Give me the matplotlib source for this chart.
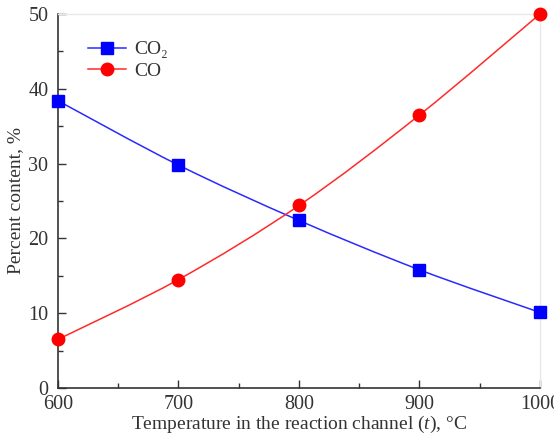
import numpy as np
import matplotlib
matplotlib.use('Agg')
import matplotlib.pyplot as plt
from matplotlib.path import Path
from matplotlib.patches import PathPatch
from matplotlib.ticker import MultipleLocator

# Gas composition vs. temperature
temperature = [600, 700, 800, 900, 1000]
co2_content = [38.4, 29.8, 22.4, 15.8, 10.1]
co_content = [6.5, 14.5, 24.4, 36.5, 50.0]

plt.rcParams['font.family'] = ['Liberation Serif', 'DejaVu Serif']
plt.rcParams['mathtext.fontset'] = 'custom'
plt.rcParams['mathtext.rm'] = 'Liberation Serif'
plt.rcParams['mathtext.it'] = 'Liberation Serif:italic'
text_color = '#333333'


def smooth_path(x, y):
    # Catmull-Rom through the points, drawn as cubic Bezier segments
    x = np.asarray(x, float)
    y = np.asarray(y, float)
    verts = [(x[0], y[0])]
    codes = [Path.MOVETO]
    n = len(x)
    for i in range(n - 1):
        x0, y0 = (x[i - 1], y[i - 1]) if i > 0 else (x[i], y[i])
        x3, y3 = (x[i + 2], y[i + 2]) if i + 2 < n else (x[i + 1], y[i + 1])
        c1 = (x[i] + (x[i + 1] - x0) / 6, y[i] + (y[i + 1] - y0) / 6)
        c2 = (x[i + 1] - (x3 - x[i]) / 6, y[i + 1] - (y3 - y[i]) / 6)
        verts += [c1, c2, (x[i + 1], y[i + 1])]
        codes += [Path.CURVE4] * 3
    return Path(verts, codes)


fig = plt.figure(figsize=(5.54, 4.43), dpi=100)
ax = fig.add_axes([0.1047, 0.1242, 0.87, 0.8442])

series = [
    (co2_content, '#2a2aff', '#0000ff', 's', 8, 'CO\u2082'),
    (co_content, '#ff2a2a', '#ff0000', 'o', 9, 'CO'),
]
for vals, line_color, mark_color, marker, ms, label in series:
    ax.add_patch(PathPatch(smooth_path(temperature, vals), fill=False,
                           edgecolor=line_color, lw=1.1, zorder=2))
    ax.plot(temperature, vals, linestyle='none', marker=marker, ms=ms,
            color=mark_color, zorder=3, clip_on=False)
    ax.plot([], [], color=line_color, lw=1.1, marker=marker, ms=ms,
            mfc=mark_color, mec=mark_color, label=label)

ax.set_xlim(600, 1000)
ax.set_ylim(0, 50)
ax.xaxis.set_major_locator(MultipleLocator(100))
ax.xaxis.set_minor_locator(MultipleLocator(50))
ax.yaxis.set_major_locator(MultipleLocator(10))
ax.yaxis.set_minor_locator(MultipleLocator(5))
ax.tick_params(which='both', direction='in', colors='#333333',
               labelcolor=text_color, labelsize=14.5, top=False, right=False)
ax.tick_params(which='major', length=6, width=1)
ax.tick_params(which='minor', length=3.5, width=1)
ax.tick_params(axis='y', pad=7)
ax.tick_params(axis='x', pad=5)

for side in ['left', 'bottom']:
    ax.spines[side].set_color('#333333')
    ax.spines[side].set_linewidth(1.2)
for side in ['top', 'right']:
    ax.spines[side].set_color('#e8e8e8')
    ax.spines[side].set_linewidth(1.0)

ax.set_xlabel('Temperature in the reaction channel ($t$), \u00b0C',
              fontsize=14, color=text_color, labelpad=0)
ax.set_ylabel('Percent content, %', fontsize=14, color=text_color, labelpad=3)

ax.legend(loc='upper left', bbox_to_anchor=(0.025, 0.975), frameon=False,
          fontsize=14, handlelength=2.0, handletextpad=0.4,
          labelspacing=0.2, labelcolor=text_color)

fig.savefig('out.png', dpi=100)
